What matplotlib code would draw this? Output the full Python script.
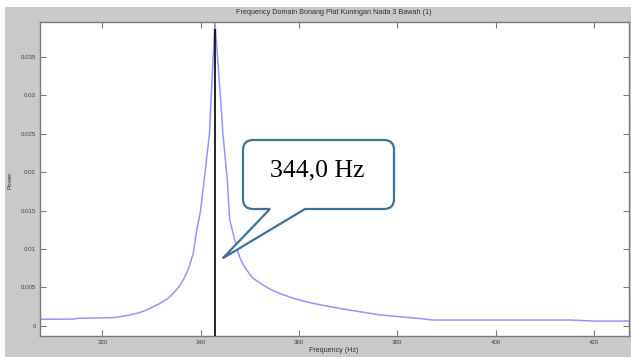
import matplotlib
matplotlib.use("Agg")
import matplotlib.pyplot as plt
from matplotlib.patches import Rectangle, PathPatch
from matplotlib.path import Path
from matplotlib.transforms import Affine2D

# Spectrum samples (Hz, power)
freq = [307.3, 314.1, 315.0, 322.2, 323.8, 325.6, 327.5, 329.0, 331.7, 333.2,
        334.4, 335.6, 336.5, 337.6, 338.5, 339.2, 339.9, 340.7, 341.8, 342.0,
        342.9, 344.2, 344.5, 345.4, 345.9, 346.9, 347.4, 347.9, 348.6, 349.3,
        350.6, 352.7, 354.3, 356.1, 359.2, 362.9, 366.2, 369.7, 376.5, 384.0,
        387.3, 415.2, 420.0, 427.2]
power = [0.00084, 0.00086, 0.00097, 0.00105, 0.0012, 0.0014, 0.0017, 0.00205, 0.0029, 0.0035,
         0.0042, 0.0051, 0.006, 0.0076, 0.0095, 0.0125, 0.0147, 0.019, 0.0251, 0.0282,
         0.0395, 0.0282, 0.0251, 0.019, 0.0138, 0.0112, 0.0100, 0.009, 0.0080, 0.0073,
         0.0062, 0.0053, 0.0047, 0.0042, 0.0035, 0.0029, 0.0025, 0.0021, 0.0014, 0.00097,
         0.00074, 0.00074, 0.00061, 0.00061]

peak_freq = 342.9
marker_top = 0.0387
peak_label = "344,0 Hz"

x_ticks = [320, 340, 360, 380, 400, 420]
y_ticks = [0, 0.005, 0.01, 0.015, 0.02, 0.025, 0.03, 0.035]
y_tick_labels = ["0", "0.005", "0.01", "0.015", "0.02", "0.025", "0.03", "0.035"]

title = "Frequency Domain Bonang Plat Kuningan Nada 3 Bawah (1)"

W, H = 631, 357
fig = plt.figure(figsize=(W / 100, H / 100), dpi=100)
fig.patch.set_facecolor("white")

# gray window panel
fig.patches.append(Rectangle((5 / W, 0), 1, (H - 7) / H, transform=fig.transFigure,
                             facecolor="#c9c9c9", edgecolor="none", zorder=-10))

ax = fig.add_axes([40 / W, (H - 335.7) / H, 589.3 / W, (335.7 - 21.7) / H])
ax.set_facecolor("white")
ax.plot(freq, power, color="#9494ff", linewidth=1.1, zorder=2,
        solid_joinstyle="round")
ax.vlines(peak_freq, -0.0013, marker_top, color="black", linewidth=1.2, zorder=3)

ax.set_xlim(307.3, 427.2)
ax.set_ylim(-0.0013, 0.0396)
ax.set_xticks(x_ticks)
ax.set_xticklabels([str(t) for t in x_ticks])
ax.set_yticks(y_ticks)
ax.set_yticklabels(y_tick_labels)

for s in ax.spines.values():
    s.set_color("#7a7a7a")
    s.set_linewidth(1.0)
ax.tick_params(direction="in", length=4, width=0.8, color="#7a7a7a",
               top=True, right=True, labelsize=4.4, labelcolor="#444444", pad=3)
for lbl in ax.get_xticklabels() + ax.get_yticklabels():
    lbl.set_family("Liberation Sans")

fig.text(334 / W, (H - 13) / H, title, ha="center", va="center",
         fontsize=5.2, color="#333333", family="Liberation Sans")
fig.text(334 / W, (H - 351) / H, "Frequency (Hz)", ha="center", va="center",
         fontsize=5.1, color="#333333", family="Liberation Sans")
fig.text(10 / W, (H - 180) / H, "Power", ha="center", va="center", rotation=90,
         fontsize=4.4, color="#333333", family="Liberation Sans")

# callout box with pointer (pixel geometry, y upward)
X0, X1 = 243.0, 394.0
Yt, Yb = H - 140.0, H - 209.0
r = 10.0
tip = (222.7, H - 258.3)
tail_l, tail_r = 270.0, 305.0
verts = [
    (X0, Yb + r), (X0, Yt - r), (X0, Yt), (X0 + r, Yt),
    (X1 - r, Yt), (X1, Yt), (X1, Yt - r),
    (X1, Yb + r), (X1, Yb), (X1 - r, Yb),
    (tail_r, Yb), tip, (tail_l, Yb),
    (X0 + r, Yb), (X0, Yb), (X0, Yb + r), (X0, Yb + r),
]
codes = [
    Path.MOVETO, Path.LINETO, Path.CURVE3, Path.CURVE3,
    Path.LINETO, Path.CURVE3, Path.CURVE3,
    Path.LINETO, Path.CURVE3, Path.CURVE3,
    Path.LINETO, Path.LINETO, Path.LINETO,
    Path.LINETO, Path.CURVE3, Path.CURVE3, Path.CLOSEPOLY,
]
px_to_fig = Affine2D().scale(1 / W, 1 / H) + fig.transFigure
fig.patches.append(PathPatch(Path(verts, codes), transform=px_to_fig,
                             facecolor="white", edgecolor="#41719C",
                             linewidth=1.6, joinstyle="miter", zorder=5))
fig.text(316.7 / W, (H - 170) / H, peak_label, ha="center", va="center",
         fontsize=18.5, color="black", family="Liberation Serif", zorder=6)

fig.savefig("out.png", dpi=100)
